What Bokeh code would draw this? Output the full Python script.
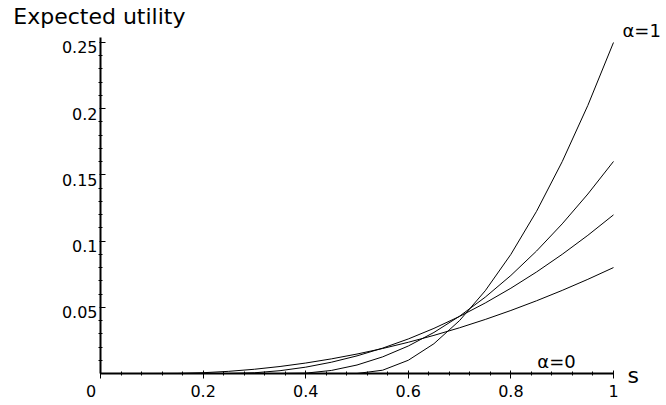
from bokeh.plotting import figure
from bokeh.models import (ColumnDataSource, LabelSet, Label, FixedTicker, Range1d,
                          CustomLabelingPolicy)
from bokeh.core.properties import value
from bokeh.embed import file_html
from bokeh.resources import INLINE

# ---- data ----
s = [0.0, 0.05, 0.1, 0.15, 0.2, 0.25, 0.3, 0.35, 0.4, 0.45, 0.5,
     0.55, 0.6, 0.65, 0.7, 0.75, 0.8, 0.85, 0.9, 0.95, 1.0]

eu_alpha_1 = [0, 0, 0, 0, 0, 0, 0, 0, 0, 0, 0,
              0.0025, 0.01, 0.0225, 0.04, 0.0625, 0.09, 0.1225, 0.16, 0.2025, 0.25]
eu_curve_b = [0, 0, 0, 0, 0, 0, 0, 0, 0.00026, 0.00231, 0.00641,
              0.01256, 0.02076, 0.03101, 0.04331, 0.05766, 0.07406, 0.09251, 0.11301, 0.13556, 0.16016]
eu_curve_c = [0, 0, 0, 0, 0, 0, 0.00053, 0.00213, 0.00479, 0.00852, 0.01331,
              0.01917, 0.02609, 0.03408, 0.04313, 0.05325, 0.06443, 0.07668, 0.09, 0.10437, 0.11981]
eu_curve_d = [0, 0, 0, 0.00007, 0.00059, 0.00163, 0.0032, 0.00529, 0.0079, 0.01104, 0.0147,
              0.01888, 0.02358, 0.0288, 0.03455, 0.04082, 0.04761, 0.05493, 0.06277, 0.07113, 0.08001]
eu_alpha_0 = [0, 0, 0, 0, 0, 0, 0, 0, 0, 0, 0,
              0, 0, 0, 0, 0, 0, 0, 0, 0, 0]

x_ticks = [0.0, 0.2, 0.4, 0.6, 0.8, 1.0]
x_tick_labels = ["0", "0.2", "0.4", "0.6", "0.8", "1"]
x_minor = [0.04, 0.08, 0.12, 0.16, 0.24, 0.28, 0.32, 0.36, 0.44, 0.48, 0.52, 0.56,
           0.64, 0.68, 0.72, 0.76, 0.84, 0.88, 0.92, 0.96]
y_ticks = [0.05, 0.1, 0.15, 0.2, 0.25]
y_tick_labels = ["0.05", "0.1", "0.15", "0.2", "0.25"]
y_minor = [0.01, 0.02, 0.03, 0.04, 0.06, 0.07, 0.08, 0.09, 0.11, 0.12, 0.13, 0.14,
           0.16, 0.17, 0.18, 0.19, 0.21, 0.22, 0.23, 0.24]

FONT = "DejaVu Sans"

# frame covers the whole canvas; axes are pinned at the origin
p = figure(width=666, height=405,
           x_range=Range1d(-0.194932, 1.103314), y_range=Range1d(-0.024169, 0.281722),
           output_backend="svg", toolbar_location=None,
           min_border_left=0, min_border_right=0, min_border_top=0, min_border_bottom=0)
p.outline_line_color = None
p.xgrid.visible = False
p.ygrid.visible = False
p.background_fill_color = "white"
p.border_fill_color = "white"

no_labels = CustomLabelingPolicy(code="for (const i of [...indices.ones()]) indices.unset(i); return indices")

for ax in (p.xaxis[0], p.yaxis[0]):
    ax.fixed_location = 0
    ax.axis_line_width = 2
    ax.axis_line_color = "black"
    ax.major_tick_line_color = "black"
    ax.minor_tick_line_color = "black"
    ax.major_tick_line_width = 1
    ax.minor_tick_line_width = 1
    ax.major_label_policy = no_labels

p.xaxis[0].bounds = (0, 1)
p.xaxis[0].ticker = FixedTicker(ticks=x_ticks, minor_ticks=x_minor)
p.xaxis[0].major_tick_in = 3
p.xaxis[0].major_tick_out = 5
p.xaxis[0].minor_tick_in = 2
p.xaxis[0].minor_tick_out = 2

p.yaxis[0].bounds = (0, 0.2535)
p.yaxis[0].ticker = FixedTicker(ticks=y_ticks, minor_ticks=y_minor)
p.yaxis[0].major_tick_in = 5
p.yaxis[0].major_tick_out = 1
p.yaxis[0].minor_tick_in = 2
p.yaxis[0].minor_tick_out = 2

for ys in (eu_alpha_0, eu_curve_d, eu_curve_c, eu_curve_b, eu_alpha_1):
    p.line(s, ys, line_color="black", line_width=1)

# tick labels
ysrc = ColumnDataSource(dict(x=[0.0] * len(y_ticks), y=y_ticks, text=y_tick_labels))
p.add_layout(LabelSet(x="x", y="y", text="text", source=ysrc, text_align="right",
                      text_baseline="top", x_offset=-3, y_offset=1,
                      text_font=value(FONT), text_font_size=value("16px"),
                      text_color="black"))
xoffs = [-9.5, 0, 0, 0, 0, 0]
xsrc = ColumnDataSource(dict(x=x_ticks, y=[0.0] * len(x_ticks), text=x_tick_labels, xo=xoffs))
p.add_layout(LabelSet(x="x", y="y", text="text", source=xsrc, text_align="center",
                      text_baseline="top", x_offset="xo", y_offset=-11,
                      text_font=value(FONT), text_font_size=value("16px"),
                      text_color="black"))

p.add_layout(Label(x=1.0, y=0.25, text="α=1", x_offset=9, y_offset=12,
                   text_align="left", text_baseline="alphabetic",
                   text_font=FONT, text_font_size="18px", text_color="black"))
p.add_layout(Label(x=0.889, y=0.0, text="α=0", x_offset=0, y_offset=12,
                   text_align="center", text_baseline="alphabetic",
                   text_font=FONT, text_font_size="18px", text_color="black"))
p.add_layout(Label(x=1.0, y=0.0, text="s", x_offset=14, y_offset=-2,
                   text_align="left", text_baseline="alphabetic",
                   text_font=FONT, text_font_size="22px", text_color="black"))
p.add_layout(Label(x=-0.17, y=0.265, text="Expected utility", y_offset=6,
                   text_align="left", text_baseline="alphabetic",
                   text_font=FONT, text_font_size="22px", text_color="black"))

open("out.html", "w").write(file_html(p, INLINE))
